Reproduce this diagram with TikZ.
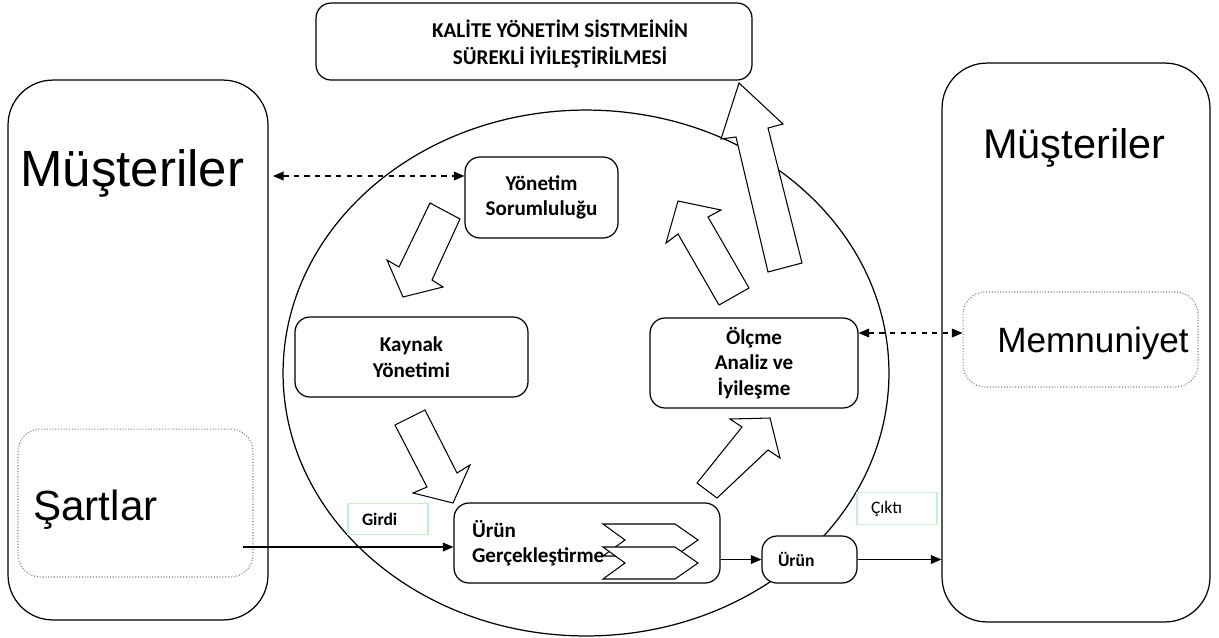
\documentclass[tikz,border=0pt]{standalone}
\usepackage{fontspec}
\setmainfont{Carlito}
\newfontfamily\arialfont{Liberation Sans}
\usetikzlibrary{arrows.meta}

\begin{document}
\begin{tikzpicture}[x=0.02cm, y=-0.02cm,
  procbox/.style={draw, line width=0.7pt, rounded corners=0.3cm, fill=white,
    font=\bfseries\fontsize{12}{14.5}\selectfont, align=center},
  custbox/.style={draw, line width=0.7pt, rounded corners=0.9cm},
  dotbox/.style={draw=gray, densely dotted, line width=0.6pt, rounded corners=0.45cm},
  bigtext/.style={font=\arialfont\fontsize{#1}{#1}\selectfont, anchor=base west, inner sep=0pt},
  tagbox/.style={draw=tagcolor, line width=0.6pt, inner xsep=0.28cm, inner ysep=0pt,
    text width=1.04cm, minimum height=0.63cm, align=left},
  block/.style={draw, line width=0.6pt, fill=white},
  flow/.style={-{Triangle[length=6pt,width=5pt]}, line width=0.6pt},
  link/.style={{Triangle[length=6pt,width=5pt]}-{Triangle[length=6pt,width=5pt]}, dashed, line width=0.6pt}]
% Define colors
\definecolor{tagcolor}{RGB}{198, 239, 206}

\useasboundingbox (0,0) rectangle (1219,637);

% Customer boxes
\node[custbox, minimum width=5.2cm, minimum height=10.8cm] (custL) at (138,350) {};
\node[custbox, minimum width=5.36cm, minimum height=11.18cm] (custR) at (1076,342.5) {};
\node[dotbox, minimum width=4.7cm, minimum height=2.96cm] (sartlar) at (135.5,503) {};
\node[dotbox, minimum width=4.7cm, minimum height=1.9cm] (memnun) at (1080.5,339.5) {};

% Process circle
\draw[line width=0.7pt] (586,373) ellipse [x radius=6.06cm, y radius=5.26cm];

% Block arrows
\draw[block] (430,203) -- (399,267) -- (387,260) -- (403,297) -- (443,287) -- (432,280) -- (460,219) -- cycle;
\draw[block] (395,425) -- (427,487) -- (413,493) -- (453,503) -- (470,465) -- (457,473) -- (425,410) -- cycle;
\draw[block] (697,483) -- (742,427) -- (730,419) -- (770,418) -- (780,458) -- (768,450) -- (717,498) -- cycle;
\draw[block] (719,305) -- (678,234) -- (666,243) -- (678,201) -- (721,210) -- (708,217) -- (749,288) -- cycle;
\draw[block] (768,272) -- (736,137) -- (721,139) -- (739,83) -- (783,124) -- (768,128) -- (802,263) -- cycle;

% Process boxes
\node[procbox, minimum width=8.72cm, minimum height=1.54cm] (kalite) at (534,41.5) {};
\node[procbox, draw=none, fill=none, font=\bfseries\fontsize{12}{15.4}\selectfont] (kalitetext) at (560,44)
  {KALİTE YÖNETİM SİSTMEİNİN\\SÜREKLİ İYİLEŞTİRİLMESİ};
\node[procbox, minimum width=3.06cm, minimum height=1.62cm] (yonetim) at (541.5,197.5) {Yönetim\\Sorumluluğu};
\node[procbox, minimum width=4.66cm, minimum height=1.6cm] (kaynak) at (411.5,357) {Kaynak\\Yönetimi};
\node[procbox, minimum width=4.16cm, minimum height=1.8cm] (olcme) at (754,363) {Ölçme\\Analiz ve\\İyileşme};
\node[procbox, minimum width=5.32cm, minimum height=1.6cm, text width=4.6cm, inner xsep=0.36cm,
  align=left] (prod) at (587,543) {Ürün\\Gerçekleştirme};
\node[procbox, minimum height=0.94cm, text width=1.26cm, inner xsep=0.32cm, align=left,
  font=\bfseries] (urun) at (809.5,559.5) {Ürün};

% Chevrons
\foreach \y in {524,547}
  \draw[block] (603,\y) -- (675,\y) -- (698,\y+16) -- (675,\y+32) -- (603,\y+32) -- (625,\y+16) -- cycle;

% Flow of the product
\coordinate (inStart) at (243,547);
\draw[flow] (inStart) -- (inStart -| prod.west);
\draw[flow] (urun.west -| prod.east) -- (urun.west);
\draw[flow] (urun.east) -- (urun.east -| custR.west);
\node[tagbox, font=\bfseries] (girdi) at (388,519) {Girdi};
\node[tagbox] (cikti) at (897,508.5) {Çıktı};

% Information links
\coordinate (dashL) at (273,176);
\draw[link] (dashL) -- (dashL -| yonetim.west);
\draw[link] ([yshift=0.6cm]olcme.east) -- ([yshift=0.6cm]olcme.east -| memnun.west);

% Large labels
\node[bigtext=29] (custLtext) at (20,186) {Müşteriler};
\node[bigtext=23.6] (custRtext) at (983,158) {Müşteriler};
\node[bigtext=24] (sartlartext) at (33,520) {Şartlar};
\node[bigtext=20] (memnuntext) at (997,352) {Memnuniyet};

\end{tikzpicture}
\end{document}
